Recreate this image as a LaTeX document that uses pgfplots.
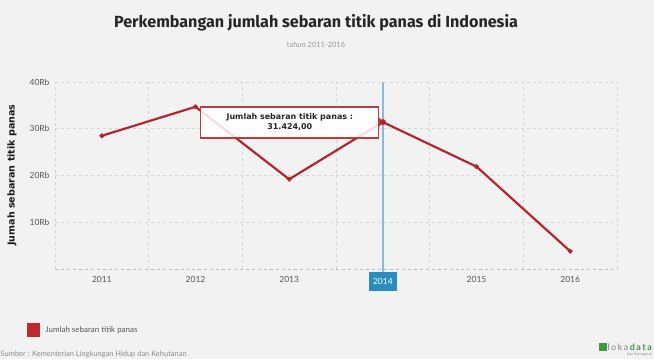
\documentclass[border=0pt]{standalone}
\usepackage{pgfplots}
\pgfplotsset{compat=1.18}
\usepackage{fontspec}
\setmainfont{Lato}
\newfontfamily\titlefont{Fira Sans}
\newfontfamily\boldfont{DejaVu Sans}
\definecolor{bg}{HTML}{F2F2F2}
\definecolor{lineRed}{HTML}{B0282E}
\definecolor{legRed}{HTML}{C0282F}
\definecolor{gridc}{HTML}{D4D4D4}
\definecolor{tickc}{HTML}{555555}
\definecolor{crossc}{HTML}{86BCDD}
\definecolor{boxblue}{HTML}{2B8CC0}
\definecolor{lokagreen}{HTML}{3E9A3E}
\begin{document}
\begin{tikzpicture}[x=1bp,y=1bp]
\clip (0,0) rectangle (654,359);
\fill[bg] (0,0) rectangle (654,359);
\begin{axis}[
  at={(55bp,90bp)}, anchor=south west,
  scale only axis, width=562bp, height=187bp,
  xmin=-0.5, xmax=5.5, ymin=0, ymax=40000,
  axis line style={draw=none},
  tick style={draw=none},
  xtick={0,1,2,3,4,5},
  xticklabels={2011,2012,2013,{},2015,2016},
  minor xtick={-0.5,0.5,1.5,2.5,3.5,4.5,5.5},
  xminorgrids,
  ytick={10000,20000,30000,40000},
  yticklabels={10Rb,20Rb,30Rb,40Rb},
  scaled y ticks=false,
  ymajorgrids,
  grid style={gridc, dashed, line width=0.6bp},
  minor grid style={gridc, dashed, line width=0.6bp},
  ticklabel style={font=\fontsize{8.5}{10}\selectfont, text=tickc},
  xticklabel style={yshift=-4bp},
  yticklabel style={xshift=-2bp},
  legend style={at={(-0.0498,-0.326)}, anchor=west, draw=none, fill=none,
    font=\fontsize{8}{10}\selectfont, text=tickc, inner sep=0pt},
  legend image code/.code={\fill[legRed] (0bp,-6bp) rectangle (11bp,6bp);},
  clip=false,
]
\draw[gridc!70!gray, dashed, line width=0.8bp] (axis cs:-0.5,0) -- (axis cs:5.5,0);
\draw[crossc, line width=1.4bp] (axis cs:3,40000) -- ([yshift=-3bp]axis cs:3,0);
\addplot[lineRed, line width=2.2bp, mark=*, mark size=1.1bp, mark options={fill=lineRed}] coordinates {
  (0,28500) (1,34700) (2,19200) (3,31424) (4,21900) (5,3800)
};
\addlegendentry{\hspace{3bp}Jumlah sebaran titik panas}
\addplot[only marks, mark=*, mark size=2.8bp, lineRed, forget plot] coordinates {(3,31424)};
% tooltip
\fill[white, opacity=0.85] ([xshift=-182bp,yshift=-16bp]axis cs:3,31424) rectangle ([xshift=-4bp,yshift=15bp]axis cs:3,31424);
\draw[lineRed!90, line width=1.3bp]
  ([xshift=-182bp,yshift=-16bp]axis cs:3,31424) rectangle ([xshift=-4bp,yshift=15bp]axis cs:3,31424);
\fill[lineRed!90] ([xshift=-4bp,yshift=-5bp]axis cs:3,31424) -- (axis cs:3,31424) -- ([xshift=-4bp,yshift=5bp]axis cs:3,31424) -- cycle;
\node[font=\boldfont\bfseries\fontsize{8}{10.5}\selectfont, align=center, text=black!85] at ([xshift=-93bp]axis cs:3,31424) {Jumlah sebaran titik panas :\\31.424,00};
% 2014 label
\node[fill=boxblue, text=white, font=\fontsize{8.5}{10}\selectfont, inner xsep=4bp, minimum height=19bp, anchor=north] at ([yshift=-3bp]axis cs:3,0) {2014};
\end{axis}
\node[font=\titlefont\bfseries\fontsize{16.2}{19}\selectfont, text=black!85] at (316,336) {Perkembangan jumlah sebaran titik panas di Indonesia};
\node[font=\fontsize{7.5}{9}\selectfont, text=black!40] at (316,314) {tahun 2011-2016};
\node[font=\boldfont\bfseries\fontsize{9.6}{11}\selectfont, text=black!90, rotate=90] at (12,184) {Jumah sebaran titik panas};
\node[font=\fontsize{7.5}{9}\selectfont, text=black!45, anchor=west, inner sep=0pt] at (0.5,5) {Sumber : Kementerian Lingkungan Hidup dan Kehutanan};
\node[font=\fontsize{9}{10}\selectfont, anchor=east, inner sep=0pt] at (652,12) {\textcolor{black!50}{l\,o\,k\,a}\,\textcolor{lokagreen}{\bfseries d\,a\,t\,a}};
\fill[lokagreen] (599,8) rectangle (607,16);
\node[font=\fontsize{3.5}{4}\selectfont, text=black!45, anchor=east, inner sep=0pt] at (652,4) {Dari Beritagar.id};
\end{tikzpicture}
\end{document}
